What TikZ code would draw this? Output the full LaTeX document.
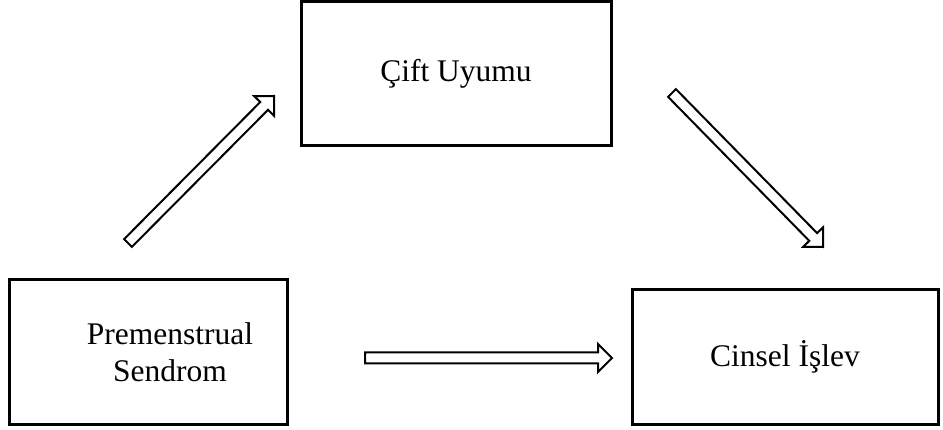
\documentclass[tikz,border=0pt]{standalone}
\usepackage{fontspec}
\setmainfont{Liberation Serif}
\usetikzlibrary{calc}

\tikzset{
  blockarrow/.style={draw, line width=2pt, line join=miter,
    to path={
      ($(\tikztostart)!5.5pt!90:(\tikztotarget)$)
      -- ($($(\tikztotarget)!14pt!(\tikztostart)$)!5.5pt!-90:(\tikztostart)$)
      -- ($($(\tikztotarget)!14pt!(\tikztostart)$)!14pt!-90:(\tikztostart)$)
      -- (\tikztotarget)
      -- ($($(\tikztotarget)!14pt!(\tikztostart)$)!14pt!90:(\tikztostart)$)
      -- ($($(\tikztotarget)!14pt!(\tikztostart)$)!5.5pt!90:(\tikztostart)$)
      -- ($(\tikztostart)!5.5pt!-90:(\tikztotarget)$)
      -- cycle}}
}

\begin{document}
\begin{tikzpicture}[x=1pt,y=-1pt,
  every node/.style={font=\fontsize{31.5}{37}\selectfont},
  box/.style={draw,rectangle,line width=3pt,inner sep=0pt}]
\useasboundingbox (0,0) rectangle (943,430);
% boxes
\node[box,minimum width=310pt,minimum height=144pt] (cu) at (456,74){Çift Uyumu};
\node[box,minimum width=278pt,minimum height=144pt] (ps) at (148,352){};
\node[align=center] (pstext) at (170,352){Premenstrual\\Sendrom};
\node[box,minimum width=306pt,minimum height=134pt] (ci) at (785,357){Cinsel İşlev};
% arrows
\coordinate (a1s) at (128,243);
\coordinate (a1e) at (274,96);
\coordinate (a2s) at (672,93);
\coordinate (a2e) at (823,247);
\coordinate (a3s) at (365,358);
\coordinate (a3e) at (612,358);
\draw[blockarrow] (a1s) to (a1e);
\draw[blockarrow] (a2s) to (a2e);
\draw[blockarrow] (a3s) to (a3e);
\end{tikzpicture}
\end{document}
